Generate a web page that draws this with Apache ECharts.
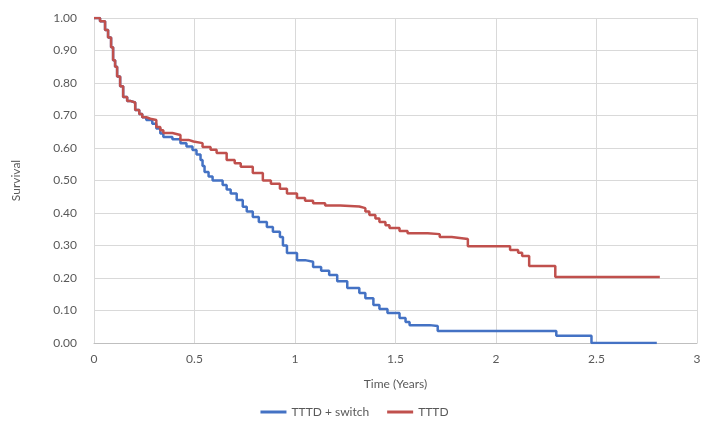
<!DOCTYPE html>
<html>
<head>
<meta charset="utf-8">
<script src="https://cdn.jsdelivr.net/npm/echarts@6/dist/echarts.min.js"></script>
<style>
  html, body { margin: 0; padding: 0; background: #fff; }
  #chart { width: 709px; height: 436px; }
</style>
</head>
<body>
<div id="chart"></div>
<script>
// TTTD (red)
var tttdTime = [0, 0.03, 0.055, 0.07, 0.085, 0.095, 0.105, 0.115, 0.13, 0.145, 0.165, 0.18, 0.205, 0.225, 0.24, 0.26,
  0.28, 0.31, 0.33, 0.345, 0.39, 0.43, 0.47, 0.495, 0.54, 0.58, 0.61, 0.66, 0.7, 0.73, 0.79, 0.84, 0.88, 0.925, 0.96,
  1.01, 1.05, 1.09, 1.15, 1.225, 1.32, 1.35, 1.37, 1.4, 1.42, 1.45, 1.47, 1.52, 1.56, 1.66, 1.72, 1.78, 1.86,
  2.07, 2.11, 2.13, 2.165, 2.295, 2.815];
var tttdSurv = [1.0, 0.99, 0.963, 0.94, 0.91, 0.87, 0.85, 0.82, 0.79, 0.757, 0.745, 0.74, 0.717, 0.705, 0.695, 0.69,
  0.686, 0.665, 0.655, 0.646, 0.64, 0.625, 0.62, 0.615, 0.603, 0.595, 0.585, 0.563, 0.553, 0.542, 0.523, 0.50, 0.49, 0.475, 0.46,
  0.446, 0.438, 0.43, 0.423, 0.42, 0.415, 0.405, 0.394, 0.383, 0.372, 0.362, 0.354, 0.345, 0.338, 0.335, 0.326, 0.32, 0.298,
  0.286, 0.278, 0.268, 0.237, 0.203, 0.203];

// TTTD + switch (blue)
var switchTime = [0, 0.03, 0.055, 0.07, 0.085, 0.095, 0.105, 0.115, 0.13, 0.145, 0.165, 0.18, 0.205, 0.225, 0.24, 0.26,
  0.29, 0.31, 0.33, 0.345, 0.39, 0.43, 0.46, 0.49, 0.51, 0.53, 0.54, 0.55, 0.57, 0.59, 0.64, 0.66, 0.68, 0.71, 0.74,
  0.76, 0.79, 0.82, 0.86, 0.89, 0.925, 0.94, 0.96, 1.01, 1.05, 1.09, 1.13, 1.17, 1.21, 1.26, 1.32, 1.35, 1.39, 1.42,
  1.46, 1.52, 1.55, 1.57, 1.67, 1.71, 2.30, 2.475, 2.80];
var switchSurv = [1.0, 0.99, 0.963, 0.94, 0.91, 0.87, 0.85, 0.82, 0.79, 0.757, 0.745, 0.74, 0.717, 0.705, 0.695, 0.686,
  0.675, 0.66, 0.645, 0.634, 0.627, 0.615, 0.605, 0.594, 0.58, 0.563, 0.545, 0.526, 0.512, 0.50, 0.486, 0.472, 0.46, 0.44, 0.419,
  0.405, 0.388, 0.372, 0.357, 0.342, 0.326, 0.30, 0.277, 0.255, 0.25, 0.234, 0.222, 0.209, 0.19, 0.169, 0.154, 0.138, 0.117, 0.105,
  0.092, 0.077, 0.065, 0.055, 0.052, 0.037, 0.022, 0.0, 0.0];

var seriesNames = ['TTTD + switch', 'TTTD'];

function pairs(xs, ys) {
  return xs.map(function (x, i) { return [x, ys[i]]; });
}

var chart = echarts.init(document.getElementById('chart'));
var textColor = '#595959';
var font = 'Lato, "Liberation Sans", sans-serif';

var option = {
  animation: false,
  textStyle: { fontFamily: font },
  grid: { left: 94, right: 12, top: 18, bottom: 93 },
  legend: {
    data: seriesNames,
    bottom: 13,
    left: 'center',
    icon: 'rect',
    itemWidth: 26,
    itemHeight: 3,
    itemGap: 18,
    textStyle: { color: textColor, fontSize: 12, fontFamily: font }
  },
  xAxis: {
    type: 'value',
    min: 0,
    max: 3,
    interval: 0.5,
    name: 'Time (Years)',
    nameLocation: 'middle',
    nameGap: 35,
    nameTextStyle: { color: textColor, fontSize: 12 },
    axisLine: { lineStyle: { color: '#bfbfbf' } },
    axisTick: { show: false },
    axisLabel: { color: textColor, fontSize: 12, margin: 10 },
    splitLine: { show: true, lineStyle: { color: '#d9d9d9' } }
  },
  yAxis: {
    type: 'value',
    min: 0,
    max: 1,
    interval: 0.1,
    name: 'Survival',
    nameLocation: 'middle',
    nameGap: 72,
    nameTextStyle: { color: textColor, fontSize: 12 },
    axisLine: { show: false },
    axisTick: { show: false },
    axisLabel: {
      color: textColor, fontSize: 12, margin: 17,
      formatter: function (v) { return v.toFixed(2); }
    },
    splitLine: { show: true, lineStyle: { color: '#d9d9d9' } }
  },
  series: [
    {
      name: seriesNames[0],
      type: 'line',
      step: 'end',
      symbol: 'none',
      color: '#4472C4',
      lineStyle: { width: 2.5, color: '#4472C4' },
      data: pairs(switchTime, switchSurv)
    },
    {
      name: seriesNames[1],
      type: 'line',
      step: 'end',
      symbol: 'none',
      color: '#C0504D',
      lineStyle: { width: 2.5, color: '#C0504D' },
      data: pairs(tttdTime, tttdSurv)
    }
  ]
};
chart.setOption(option);
</script>
</body>
</html>
